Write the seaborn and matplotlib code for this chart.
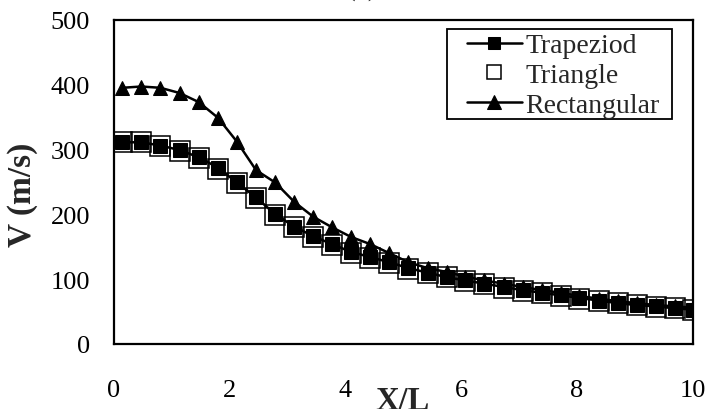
import matplotlib
matplotlib.use("Agg")
import matplotlib.pyplot as plt
from matplotlib.patches import Rectangle
import seaborn as sns
import pandas as pd

# ---- data ----
x_pos = [0.15, 0.48, 0.81, 1.14, 1.47, 1.80, 2.13, 2.46, 2.79, 3.12,
         3.45, 3.77, 4.10, 4.43, 4.76, 5.09, 5.42, 5.75, 6.07, 6.40,
         6.73, 7.06, 7.39, 7.72, 8.04, 8.37, 8.70, 9.03, 9.36, 9.69, 10.0]
trapeziod = [311, 311, 306, 299, 288, 272, 249, 226, 200, 181,
             166, 154, 142, 134, 126, 117, 110, 103, 98, 93,
             88, 83, 79, 75, 71, 67, 63, 60, 58, 55, 53]
triangle = [311, 311, 305, 298, 287, 270, 248, 225, 199, 180,
            165, 153, 141, 133, 125, 116, 109, 103, 97, 92,
            87, 82, 78, 74, 70, 66, 63, 60, 57, 55, 53]
rectangular = [395, 397, 395, 387, 373, 349, 312, 268, 249, 219,
               196, 180, 165, 154, 140, 126, 117, 111, 104, 98,
               93, 88, 83, 79, 74, 70, 66, 63, 60, 58, 56]
series_names = ["Trapeziod", "Triangle", "Rectangular"]
x_ticks = [0, 2, 4, 6, 8, 10]
y_ticks = [0, 100, 200, 300, 400, 500]

df = pd.DataFrame({"X": x_pos * 3,
                   "V": trapeziod + triangle + rectangular,
                   "series": [series_names[0]] * len(x_pos)
                             + [series_names[1]] * len(x_pos)
                             + [series_names[2]] * len(x_pos)})

sns.set_style("white")
plt.rcParams["font.family"] = ["Liberation Serif", "DejaVu Serif"]

W, H = 708, 410
fig = plt.figure(figsize=(W / 100, H / 100), dpi=100)
ax_l, ax_r, ax_t, ax_b = 113.5, 693.0, 20.7, 345.0
ax = fig.add_axes([ax_l / W, 1 - ax_b / H, (ax_r - ax_l) / W, (ax_b - ax_t) / H])

def fx(px):
    return (px - ax_l) / (ax_r - ax_l)

def fy(py):
    return (ax_b - py) / (ax_b - ax_t)

sub = df[df.series == "Triangle"]
sns.lineplot(data=sub, x="X", y="V", ax=ax, sort=False, errorbar=None,
             linestyle="", marker="s", markersize=14, markerfacecolor="none",
             markeredgecolor="black", markeredgewidth=1.1, color="black",
             label="Triangle")
sub = df[df.series == "Rectangular"]
sns.lineplot(data=sub, x="X", y="V", ax=ax, sort=False, errorbar=None,
             color="black", linewidth=1.8, marker="^", markersize=9.5,
             markerfacecolor="black", markeredgecolor="black",
             label="Rectangular")
sub = df[df.series == "Trapeziod"]
sns.lineplot(data=sub, x="X", y="V", ax=ax, sort=False, errorbar=None,
             color="black", linewidth=1.8, marker="s", markersize=10,
             markerfacecolor="black", markeredgecolor="black",
             label="Trapeziod")

ax.set_xlim(0, 10)
ax.set_ylim(0, 500)
ax.set_xticks(x_ticks)
ax.set_yticks(y_ticks)
ax.tick_params(direction="in", length=6, width=1.2, labelsize=19,
               colors="black")
ax.tick_params(axis="y", pad=17)
ax.tick_params(axis="x", pad=25.5)
for s in ax.spines.values():
    s.set_linewidth(1.6)
    s.set_color("black")

ax.set_xlabel("X/L", fontsize=23.5, fontweight="bold")
ax.set_ylabel("V (m/s)", fontsize=24, fontweight="bold")
ax.xaxis.label.set_verticalalignment("baseline")
ax.xaxis.set_label_coords(fx(403), fy(410))
ax.yaxis.label.set_verticalalignment("center")
ax.yaxis.set_label_coords(fx(22), fy(195))

# legend frame (drawn as in the reference, wider on the left)
ax.add_patch(Rectangle((fx(446.7), fy(120)), fx(671.7) - fx(446.7),
                       fy(30) - fy(120), transform=ax.transAxes,
                       facecolor="white", edgecolor="black", linewidth=1.3,
                       zorder=4, clip_on=False))

handles, labels = ax.get_legend_handles_labels()
order = [labels.index(n) for n in series_names]
leg = ax.legend([handles[i] for i in order], [labels[i] for i in order],
                loc="upper left", bbox_to_anchor=(fx(466.7), fy(34)),
                fontsize=20, frameon=False, labelspacing=0.15,
                handlelength=2.0, handletextpad=0.1, borderpad=0.0,
                borderaxespad=0.0)
leg.set_zorder(6)
for h, ms in zip(leg.legend_handles, [9, 9.5, 9.5]):
    h.set_markersize(ms)

fig.text(362 / W, 1.0 + 5 / H, "(a)", fontsize=21, ha="center",
         va="baseline")

fig.savefig("out.png", dpi=100)
